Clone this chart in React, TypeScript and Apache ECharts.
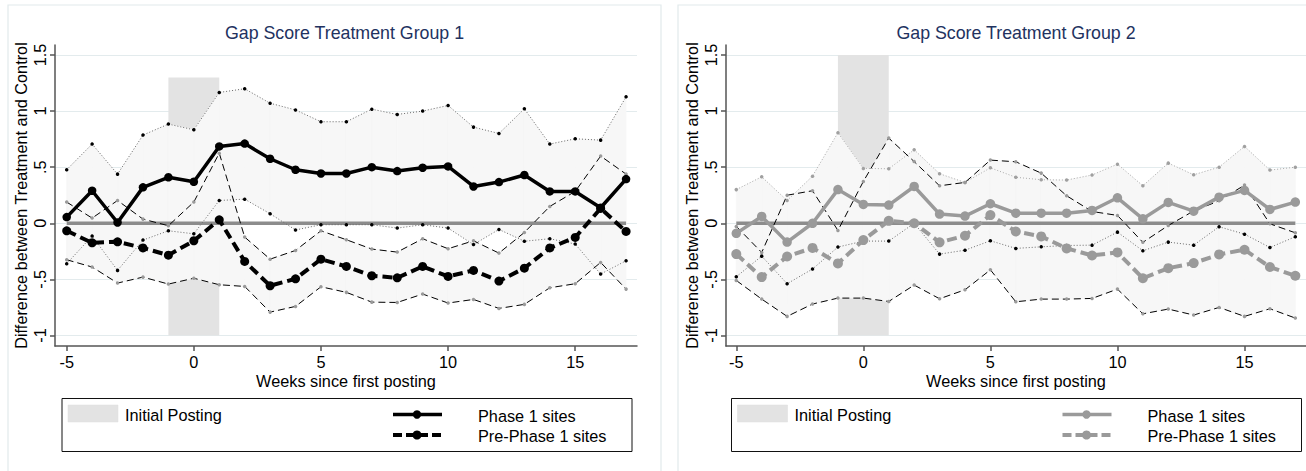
import React, { useEffect, useRef } from "react";
import * as echarts from "echarts";

// ---------- data ----------
const weeks = [-5, -4, -3, -2, -1, 0, 1, 2, 3, 4, 5, 6, 7, 8, 9, 10, 11, 12, 13, 14, 15, 16, 17];

// Group 1
const g1Phase1 = [0.055, 0.29, 0.007, 0.32, 0.41, 0.37, 0.685, 0.71, 0.575, 0.477, 0.444, 0.444, 0.5, 0.465, 0.495, 0.507, 0.328, 0.367, 0.43, 0.284, 0.284, 0.138, 0.394];
const g1PrePhase1 = [-0.067, -0.174, -0.165, -0.22, -0.284, -0.156, 0.031, -0.34, -0.557, -0.495, -0.32, -0.385, -0.468, -0.486, -0.385, -0.474, -0.42, -0.515, -0.4, -0.22, -0.126, 0.132, -0.073];
const g1Phase1Upper = [0.477, 0.706, 0.438, 0.786, 0.884, 0.833, 1.166, 1.199, 1.07, 1.01, 0.905, 0.905, 1.017, 0.97, 1.0, 1.05, 0.857, 0.8, 1.02, 0.706, 0.753, 0.741, 1.127];
const g1Phase1Lower = [-0.36, -0.114, -0.42, -0.15, -0.067, -0.094, 0.203, 0.215, 0.085, -0.06, -0.013, -0.013, -0.013, -0.043, -0.013, -0.043, -0.19, -0.055, -0.16, -0.138, -0.185, -0.453, -0.334];
const g1PreUpper = [0.189, 0.046, 0.203, 0.037, -0.022, 0.189, 0.625, -0.123, -0.32, -0.242, -0.067, -0.147, -0.23, -0.257, -0.138, -0.227, -0.156, -0.266, -0.082, 0.15, 0.284, 0.599, 0.438];
const g1PreLower = [-0.325, -0.39, -0.533, -0.48, -0.542, -0.49, -0.548, -0.563, -0.792, -0.741, -0.566, -0.616, -0.703, -0.706, -0.631, -0.711, -0.679, -0.759, -0.723, -0.575, -0.539, -0.349, -0.587];

// Group 2
const g2Phase1 = [-0.09, 0.061, -0.168, 0.0, 0.3, 0.168, 0.162, 0.328, 0.082, 0.064, 0.174, 0.09, 0.09, 0.09, 0.114, 0.227, 0.04, 0.186, 0.108, 0.233, 0.293, 0.123, 0.189];
const g2PrePhase1 = [-0.275, -0.48, -0.296, -0.22, -0.358, -0.15, 0.022, 0.0, -0.17, -0.111, 0.073, -0.073, -0.117, -0.224, -0.287, -0.26, -0.49, -0.4, -0.355, -0.278, -0.236, -0.39, -0.468];
const g2Phase1Upper = [0.3, 0.414, 0.203, 0.42, 0.807, 0.489, 0.486, 0.655, 0.441, 0.364, 0.494, 0.41, 0.388, 0.385, 0.43, 0.527, 0.334, 0.536, 0.432, 0.5, 0.685, 0.474, 0.5];
const g2Phase1Lower = [-0.477, -0.293, -0.539, -0.408, -0.212, -0.159, -0.159, 0.0, -0.275, -0.24, -0.156, -0.224, -0.21, -0.198, -0.195, -0.079, -0.245, -0.168, -0.195, -0.031, -0.097, -0.216, -0.12];
const g2PreUpper = [-0.028, -0.26, 0.25, 0.29, -0.064, 0.373, 0.759, 0.55, 0.334, 0.364, 0.563, 0.548, 0.447, 0.245, 0.105, 0.07, -0.17, -0.02, 0.11, 0.2, 0.34, -0.005, -0.085];
const g2PreLower = [-0.51, -0.676, -0.83, -0.72, -0.667, -0.667, -0.697, -0.551, -0.673, -0.593, -0.415, -0.7, -0.676, -0.676, -0.67, -0.587, -0.807, -0.765, -0.818, -0.75, -0.83, -0.762, -0.845];

// Initial posting window
const postingWeeks = [-1, 1];
const g1PostingRange = [-1, 1.3];
const g2PostingRange = [-1, 1.5];

// Axes
const xTickValues = [-5, 0, 5, 10, 15];
const yTickValues = [-1, -0.5, 0, 0.5, 1, 1.5];
const yTickLabels = ["-1", "-.5", "0", ".5", "1", "1.5"];

const titles = ["Gap Score Treatment Group 1", "Gap Score Treatment Group 2"];
const yAxisTitle = "Difference between Treatment and Control";
const xAxisTitle = "Weeks since first posting";
const legendLabels = ["Initial Posting", "Phase 1 sites", "Pre-Phase 1 sites"];

// ---------- styling ----------
const FONT = '"Liberation Sans", Arial, Helvetica, sans-serif';
const FS = 16.3;
const BAND = "#f7f7f7";
const POST = "#e3e3e3";
const AXIS = "#555555";

function pts(ys: number[]) {
  return weeks.map((w, i) => [w, ys[i]]);
}
function bandSegments(lower: number[], upper: number[]) {
  return weeks.slice(0, -1).map((w, i) => [w, lower[i], upper[i], weeks[i + 1], lower[i + 1], upper[i + 1]]);
}

interface Panel {
  phase1: number[];
  pre: number[];
  p1Upper: number[];
  p1Lower: number[];
  preUpper: number[];
  preLower: number[];
  posting: number[];
  main: string;
  p1UpperDot: string;
  p1UpperLine: string;
  p1LowerDot: string;
  markerSize: number;
}

const panels: Panel[] = [
  {
    phase1: g1Phase1, pre: g1PrePhase1, p1Upper: g1Phase1Upper, p1Lower: g1Phase1Lower,
    preUpper: g1PreUpper, preLower: g1PreLower, posting: g1PostingRange,
    main: "#000000", p1UpperDot: "#000000", p1UpperLine: "#6a6a6a", p1LowerDot: "#000000", markerSize: 8.5,
  },
  {
    phase1: g2Phase1, pre: g2PrePhase1, p1Upper: g2Phase1Upper, p1Lower: g2Phase1Lower,
    preUpper: g2PreUpper, preLower: g2PreLower, posting: g2PostingRange,
    main: "#9a9a9a", p1UpperDot: "#a0a0a0", p1UpperLine: "#aaaaaa", p1LowerDot: "#000000", markerSize: 9.5,
  },
];

const grids = [
  { left: 55, top: 45, width: 582, height: 301 },
  { left: 726, top: 45, width: 581, height: 301 },
];
const xRanges = [
  [-5.46, 17.43],
  [-5.405, 17.42],
];
const yRange = [-1.094, 1.589];

function bandSeries(idx: number, lower: number[], upper: number[]) {
  return {
    type: "custom",
    xAxisIndex: idx,
    yAxisIndex: idx,
    silent: true,
    animation: false,
    z: 2,
    encode: { x: [0, 3], y: [1, 2, 4, 5] },
    data: bandSegments(lower, upper),
    renderItem: (_params: any, api: any) => {
      const a = api.coord([api.value(0), api.value(1)]);
      const b = api.coord([api.value(0), api.value(2)]);
      const c = api.coord([api.value(3), api.value(5)]);
      const d = api.coord([api.value(3), api.value(4)]);
      return {
        type: "polygon",
        silent: true,
        shape: { points: [a, b, c, d] },
        style: { fill: BAND, stroke: BAND, lineWidth: 0.7 },
      };
    },
  };
}

function panelSeries(idx: number, d: Panel): any[] {
  const base = {
    type: "line",
    xAxisIndex: idx,
    yAxisIndex: idx,
    silent: true,
    animation: false,
    emphasis: { disabled: true },
    smooth: false,
  };
  const ci = (data: number[], line: string, dot: string, type: any) => ({
    ...base,
    data: pts(data),
    z: 4,
    symbol: "circle",
    symbolSize: 3.5,
    showSymbol: true,
    itemStyle: { color: dot, borderWidth: 0 },
    lineStyle: { color: line, width: 1, type },
  });
  return [
    {
      ...base,
      data: [[weeks[0], 0], [weeks[weeks.length - 1], 0]],
      symbol: "none",
      z: 3,
      lineStyle: { color: "#8c8c8c", width: 3.5 },
      markLine: {
        z: 0,
        silent: true,
        animation: false,
        symbol: ["none", "none"],
        label: { show: false },
        emphasis: { disabled: true },
        lineStyle: { color: "#e3ebed", width: 1, type: "solid" },
        data: yTickValues.map((v) => ({ yAxis: v })),
      },
      markArea: {
        z: 1,
        silent: true,
        animation: false,
        label: { show: false },
        emphasis: { disabled: true },
        itemStyle: { color: POST },
        data: [[
          { xAxis: postingWeeks[0], yAxis: d.posting[0] },
          { xAxis: postingWeeks[1], yAxis: d.posting[1] },
        ]],
      },
    },
    bandSeries(idx, d.p1Lower, d.p1Upper),
    bandSeries(idx, d.preLower, d.preUpper),
    ci(d.p1Upper, d.p1UpperLine, d.p1UpperDot, [1, 2]),
    ci(d.p1Lower, "#6a6a6a", d.p1LowerDot, [1, 2]),
    ci(d.preUpper, "#000000", "#9a9a9a", [7, 4]),
    ci(d.preLower, "#000000", "#9a9a9a", [7, 4]),
    {
      ...base, data: pts(d.pre), z: 5, symbol: "circle", symbolSize: d.markerSize + 0.5,
      itemStyle: { color: d.main, borderWidth: 0 },
      lineStyle: { color: d.main, width: 4, type: [10, 5] },
    },
    {
      ...base, data: pts(d.phase1), z: 5, symbol: "circle", symbolSize: d.markerSize,
      itemStyle: { color: d.main, borderWidth: 0 },
      lineStyle: { color: d.main, width: 3.5, type: "solid" },
    },
  ];
}

function legendGraphics(dx: number, color: string): any[] {
  const txt = (x: number, y: number, t: string) => ({
    type: "text",
    x: x + dx,
    y,
    silent: true,
    style: { text: t, fill: "#000", font: `${FS}px ${FONT}`, textAlign: "left", textVerticalAlign: "middle" },
  });
  return [
    {
      type: "rect", silent: true,
      shape: { x: 62 + dx, y: 398.5, width: 570, height: 53 },
      style: { fill: "none", stroke: "#111", lineWidth: 1 },
    },
    {
      type: "rect", silent: true,
      shape: { x: 68 + dx, y: 405, width: 50, height: 17 },
      style: { fill: POST, stroke: "#dcdcdc", lineWidth: 0.5 },
    },
    txt(125, 415, legendLabels[0]),
    {
      type: "line", silent: true,
      shape: { x1: 393 + dx, y1: 414.5, x2: 442 + dx, y2: 414.5 },
      style: { stroke: color, lineWidth: 3.5 },
    },
    { type: "circle", silent: true, shape: { cx: 417 + dx, cy: 414.5, r: 4.2 }, style: { fill: color } },
    txt(478, 415.5, legendLabels[1]),
    {
      type: "line", silent: true,
      shape: { x1: 393 + dx, y1: 435, x2: 442 + dx, y2: 435 },
      style: { stroke: color, lineWidth: 4, lineDash: [9, 4] },
    },
    { type: "circle", silent: true, shape: { cx: 417 + dx, cy: 435, r: 4.5 }, style: { fill: color } },
    txt(478, 436, legendLabels[2]),
  ];
}

export default function App() {
  const ref = useRef<HTMLDivElement>(null);

  useEffect(() => {
    document.body.style.margin = "0";
    if (!ref.current) return;
    const chart = echarts.init(ref.current, null, { renderer: "svg" });

    const axisLineStyle = { color: AXIS, width: 1.5 };
    const nameStyle = { fontSize: FS, color: "#000", fontFamily: FONT };

    const option: any = {
      animation: false,
      backgroundColor: "#ffffff",
      grid: grids.map((g) => ({ ...g, containLabel: false })),
      xAxis: [0, 1].map((i) => ({
        type: "value",
        gridIndex: i,
        min: xRanges[i][0],
        max: xRanges[i][1],
        axisLine: { show: true, onZero: false, lineStyle: axisLineStyle },
        axisTick: { show: true, length: 5, customValues: xTickValues, lineStyle: axisLineStyle },
        axisLabel: { show: true, customValues: xTickValues, margin: 8, fontSize: FS, color: "#000", fontFamily: FONT },
        splitLine: { show: false },
        name: xAxisTitle,
        nameLocation: "middle",
        nameGap: 27,
        nameMoveOverlap: false,
        nameTextStyle: nameStyle,
      })),
      yAxis: [0, 1].map((i) => ({
        type: "value",
        gridIndex: i,
        min: yRange[0],
        max: yRange[1],
        axisLine: { show: true, onZero: false, lineStyle: axisLineStyle },
        axisTick: { show: true, length: 5, customValues: yTickValues, lineStyle: axisLineStyle },
        axisLabel: {
          show: true,
          customValues: yTickValues,
          rotate: 90,
          margin: 7,
          fontSize: FS,
          color: "#000",
          fontFamily: FONT,
          formatter: (v: number) => {
            const k = yTickValues.findIndex((t) => Math.abs(t - v) < 1e-9);
            return k >= 0 ? yTickLabels[k] : String(v);
          },
        },
        splitLine: { show: false },
        name: yAxisTitle,
        nameLocation: "middle",
        nameGap: 26,
        nameRotate: 90,
        nameMoveOverlap: false,
        nameTextStyle: nameStyle,
      })),
      series: [...panelSeries(0, panels[0]), ...panelSeries(1, panels[1])],
      graphic: {
        elements: [
          {
            type: "rect", silent: true, z: -10,
            shape: { x: 8, y: 5, width: 653, height: 480 },
            style: { fill: "none", stroke: "#e2eaec", lineWidth: 1.2 },
          },
          {
            type: "rect", silent: true, z: -10,
            shape: { x: 678, y: 5, width: 650, height: 480 },
            style: { fill: "none", stroke: "#e2eaec", lineWidth: 1.2 },
          },
          {
            type: "text", x: 344.5, y: 32.5, silent: true,
            style: { text: titles[0], fill: "#22325f", font: `17.8px ${FONT}`, textAlign: "center", textVerticalAlign: "middle" },
          },
          {
            type: "text", x: 1016, y: 32.5, silent: true,
            style: { text: titles[1], fill: "#22325f", font: `17.8px ${FONT}`, textAlign: "center", textVerticalAlign: "middle" },
          },
          ...legendGraphics(0, "#000000"),
          ...legendGraphics(669.5, "#9a9a9a"),
        ],
      },
    };

    chart.setOption(option);
    return () => chart.dispose();
  }, []);

  return <div ref={ref} style={{ width: 1306, height: 471 }} />;
}
